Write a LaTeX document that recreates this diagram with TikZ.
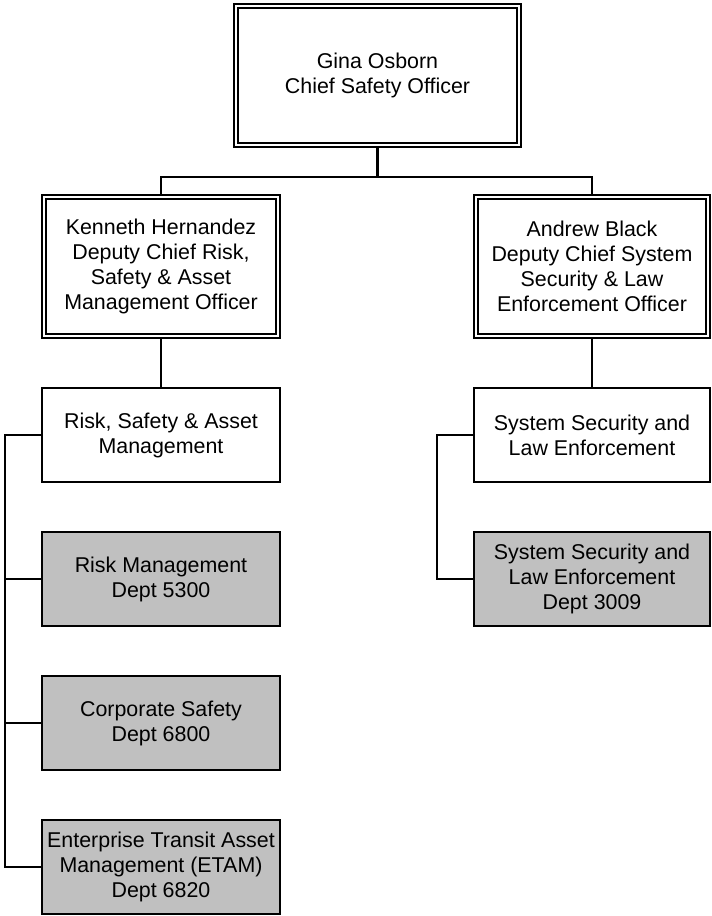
\documentclass[tikz,border=0pt]{standalone}
\usepackage{fontspec}
\setmainfont{Liberation Sans}
\definecolor{boxgray}{HTML}{C0C0C0}
\begin{document}
\begin{tikzpicture}[x=1pt,y=-1pt,
  every node/.style={font=\fontsize{21.4}{25}\selectfont, align=center, inner sep=0pt},
  single/.style={draw, line width=2.2pt, outer sep=0pt, fill=white},
  graybox/.style={single, fill=boxgray},
  dbl/.style={draw, double, line width=2pt, double distance=2.5pt, outer sep=3.2pt, fill=white},
  conn/.style={line width=2.2pt}]
\useasboundingbox (0,0) rectangle (712,916);
% nodes
\node[dbl, minimum width=283pt, minimum height=139pt] (top) at (377.5,75.5) {Gina Osborn\\Chief Safety Officer};
\node[dbl, minimum width=234pt, minimum height=139pt] (l2) at (161,266.5) {Kenneth Hernandez\\Deputy Chief Risk,\\Safety \& Asset\\Management Officer};
\node[dbl, minimum width=232pt, minimum height=139pt] (r2) at (592,266.5) {Andrew Black\\Deputy Chief System\\Security \& Law\\Enforcement Officer};
\node[single, minimum width=238pt, minimum height=94pt] (l3) at (161,435) {Risk, Safety \& Asset\\Management};
\node[single, minimum width=236pt, minimum height=94pt] (r3) at (592,435) {System Security and\\Law Enforcement};
\node[graybox, minimum width=238pt, minimum height=94pt] (rm) at (161,579) {Risk Management\\Dept 5300};
\node[graybox, minimum width=238pt, minimum height=94pt] (cs) at (161,723) {Corporate Safety\\Dept 6800};
\node[graybox, minimum width=238pt, minimum height=94pt] (etam) at (161,867) {Enterprise Transit Asset\\Management (ETAM)\\Dept 6820};
\node[graybox, minimum width=236pt, minimum height=94pt] (ss) at (592,579) {System Security and\\Law Enforcement\\Dept 3009};
% coordinates
\coordinate (bus) at (0,177);
\coordinate (lb) at (5,0);
\coordinate (rb) at (437,0);
% connectors
\draw[conn] (top.south) -- (top.south |- bus);
\draw[conn] (l2.north) -- (l2.north |- bus) -- (r2.north |- bus) -- (r2.north);
\draw[conn] (l2.south) -- (l3.north);
\draw[conn] (r2.south) -- (r3.north);
\draw[conn] (l3.west) -- (l3.west -| lb) -- (etam.west -| lb) -- (etam.west);
\draw[conn] (rm.west) -- (rm.west -| lb);
\draw[conn] (cs.west) -- (cs.west -| lb);
\draw[conn] (r3.west) -- (r3.west -| rb) -- (ss.west -| rb) -- (ss.west);
\end{tikzpicture}
\end{document}
